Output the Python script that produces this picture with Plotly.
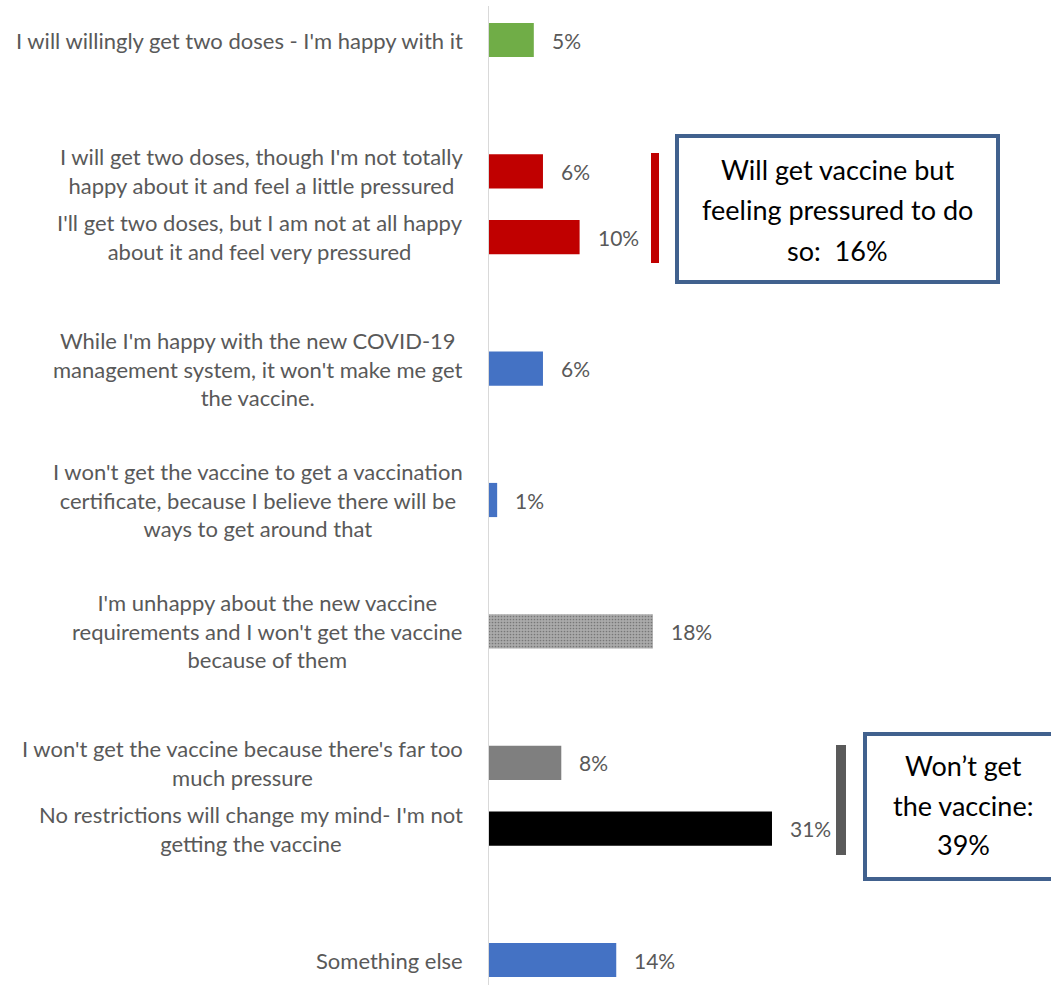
import plotly.graph_objects as go

# Survey responses (slot = vertical position, gaps separate the groups)
labels = [
    "I will willingly get two doses - I'm happy with it",
    "I will get two doses, though I'm not totally<br>happy about it and feel a little pressured",
    "I'll get two doses, but I am not at all happy<br>about it and feel very pressured",
    "While I'm happy with the new COVID-19<br>management system, it won't make me get<br>the vaccine.",
    "I won't get the vaccine to get a vaccination<br>certificate, because I believe there will be<br>ways to get around that",
    "I'm unhappy about the new vaccine<br>requirements and I won't get the vaccine<br>because of them",
    "I won't get the vaccine because there's far too<br>much pressure",
    "No restrictions will change my mind- I'm not<br>getting the vaccine",
    "Something else",
]
values = [5, 6, 10, 6, 1, 18, 8, 31, 14]
slots = [0, 2, 3, 5, 7, 9, 11, 12, 14]
colors = ["#70AD47", "#C00000", "#C00000", "#4472C4", "#4472C4",
          "#AAAAAA", "#7F7F7F", "#000000", "#4472C4"]
patterns = ["", "", "", "", "", ".", "", "", ""]

box1_lines = ["Will get vaccine but", "feeling pressured to do", "so:  16%"]
box2_lines = ["Won\u2019t get", "the vaccine:", "39%"]

W, H = 1051, 985
L = 488
FONT = "Lato, 'Open Sans', sans-serif"
GREY = "#595959"


def px(x):
    return (x - L) / (W - L)


def py(y):
    return 1 - y / H


fig = go.Figure()
fig.add_trace(go.Bar(
    x=values, y=slots, orientation="h", width=0.52,
    marker=dict(color=colors, line=dict(width=0),
                pattern=dict(shape=patterns, fillmode="overlay",
                             fgcolor="#A0A0A0", size=3, solidity=0.25)),
    hoverinfo="skip",
))

annotations = []
for lab, val, s in zip(labels, values, slots):
    annotations.append(dict(
        x=0, y=s, xref="x", yref="y", text=lab, showarrow=False,
        xanchor="right", yanchor="middle", align="center", xshift=-23,
        font=dict(family=FONT, size=22, color=GREY)))
    annotations.append(dict(
        x=val, y=s, xref="x", yref="y", text=f"{val}%", showarrow=False,
        xanchor="left", yanchor="middle", xshift=16,
        font=dict(family=FONT, size=21, color=GREY)))

# callout boxes
for lines, cx, ys in [(box1_lines, 837.5, [169, 210, 251]),
                      (box2_lines, 963, [765, 805, 844])]:
    for t, yy in zip(lines, ys):
        annotations.append(dict(
            x=px(cx), y=py(yy), xref="paper", yref="paper", text=t,
            showarrow=False, xanchor="center", yanchor="middle",
            font=dict(family=FONT, size=27, color="#000000")))

shapes = [
    # category axis line
    dict(type="line", xref="x", yref="paper", x0=0, x1=0, y0=py(6), y1=0,
         line=dict(color="#D9D9D9", width=2)),
    # group brackets
    dict(type="rect", xref="paper", yref="paper", x0=px(651), x1=px(659),
         y0=py(263), y1=py(153), fillcolor="#C00000", line=dict(width=0)),
    dict(type="rect", xref="paper", yref="paper", x0=px(836), x1=px(846),
         y0=py(855), y1=py(745), fillcolor="#5A5A5A", line=dict(width=0)),
    # boxes
    dict(type="rect", xref="paper", yref="paper", x0=px(677), x1=px(998),
         y0=py(282), y1=py(136), fillcolor="rgba(0,0,0,0)",
         line=dict(color="#41618E", width=4)),
    dict(type="rect", xref="paper", yref="paper", x0=px(865), x1=px(1065),
         y0=py(879), y1=py(734), fillcolor="rgba(0,0,0,0)",
         line=dict(color="#41618E", width=4)),
]

fig.update_layout(
    width=W, height=H,
    margin=dict(l=L, r=0, t=0, b=0),
    paper_bgcolor="white", plot_bgcolor="white",
    showlegend=False,
    xaxis=dict(range=[0, (W - L) / 9.161], visible=False, fixedrange=True),
    yaxis=dict(range=[14 + 25 / 65.71, -40 / 65.71], visible=False,
               fixedrange=True),
    annotations=annotations,
    shapes=shapes,
)

fig.write_html("out.html")
